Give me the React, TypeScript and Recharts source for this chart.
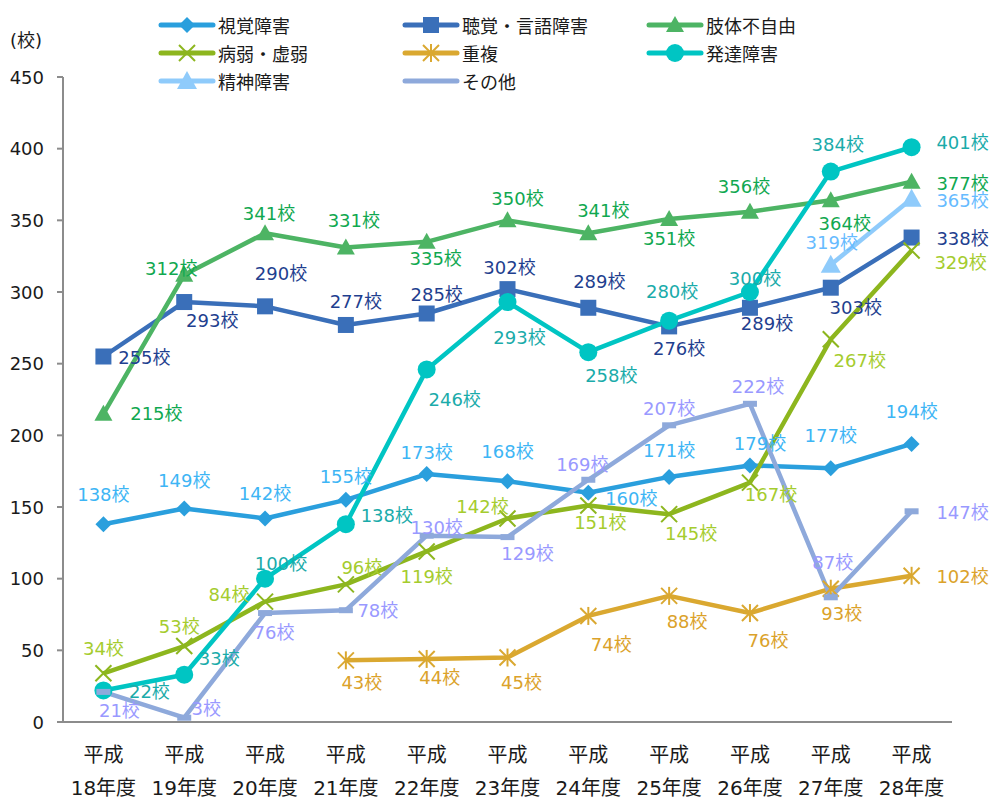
import React from 'react';
import { LineChart, Line, XAxis, YAxis, LabelList, ReferenceLine } from 'recharts';

const years = ['18年度', '19年度', '20年度', '21年度', '22年度', '23年度', '24年度', '25年度', '26年度', '27年度', '28年度'];
const yTicks = [0, 50, 100, 150, 200, 250, 300, 350, 400, 450];

const shikaku = [138, 149, 142, 155, 173, 168, 160, 171, 179, 177, 194];
const choukaku = [255, 293, 290, 277, 285, 302, 289, 276, 289, 303, 338];
const shitai = [215, 312, 341, 331, 335, 350, 341, 351, 356, 364, 377];
const byoujaku = [34, 53, 84, 96, 119, 142, 151, 145, 167, 267, 329];
const choufuku = [null, null, null, 43, 44, 45, 74, 88, 76, 93, 102];
const hattatsu = [22, 33, 100, 138, 246, 293, 258, 280, 300, 384, 401];
const seishin = [null, null, null, null, null, null, null, null, null, 319, 365];
const sonota = [21, 3, 76, 78, 130, 129, 169, 207, 222, 87, 147];

const FONT = '"DejaVu Sans", "Noto Sans CJK JP", sans-serif';
const AXIS = '#8c8c8c';

// label offsets (dx, dy) from each point, by series
const series = [
  {
    key: 'shikaku', name: '視覚障害', values: shikaku, color: '#2A9FDD', labelColor: '#3DB5F5', marker: 'diamond',
    offsets: [[0, -30], [0, -28], [0, -25], [0, -23], [0, -22], [0, -30], [43, 6], [0, -26], [10, -22], [0, -33], [0, -32]],
  },
  {
    key: 'choukaku', name: '聴覚・言語障害', values: choukaku, color: '#3A6FB9', labelColor: '#1F3F8F', marker: 'square',
    offsets: [[41, 1], [28, 18], [16, -33], [10, -23], [10, -19], [2, -22], [11, -26], [10, 22], [17, 16], [25, 20], [51, 1]],
  },
  {
    key: 'shitai', name: '肢体不自由', values: shitai, color: '#4DB464', labelColor: '#10A850', marker: 'triangle',
    offsets: [[53, 0], [-13, -6], [4, -20], [8, -27], [9, 17], [10, -22], [15, -23], [0, 20], [-6, -25], [14, 23], [51, 2]],
  },
  {
    key: 'byoujaku', name: '病弱・虚弱', values: byoujaku, color: '#8DB61E', labelColor: '#A5CC2E', marker: 'x',
    offsets: [[0, -25], [-5, -20], [-36, -7], [16, -17], [0, 25], [-25, -12], [12, 17], [22, 19], [21, 12], [29, 21], [49, 12]],
  },
  {
    key: 'choufuku', name: '重複', values: choufuku, color: '#DAA830', labelColor: '#DBA22A', marker: 'star',
    offsets: [[0, 0], [0, 0], [0, 0], [16, 22], [13, 19], [14, 25], [23, 29], [18, 26], [18, 27], [11, 25], [51, 1]],
  },
  {
    key: 'hattatsu', name: '発達障害', values: hattatsu, color: '#00C5C3', labelColor: '#1AABAA', marker: 'circle',
    offsets: [[46, 1], [35, -16], [16, -15], [41, -9], [28, 30], [12, 35], [23, 23], [3, -29], [5, -14], [7, -27], [51, -5]],
  },
  {
    key: 'seishin', name: '精神障害', values: seishin, color: '#8FCBFB', labelColor: '#66BBFF', marker: 'bigTriangle',
    offsets: [[0, 0], [0, 0], [0, 0], [0, 0], [0, 0], [0, 0], [0, 0], [0, 0], [0, 0], [1, -22], [51, 2]],
  },
  {
    key: 'sonota', name: 'その他', values: sonota, color: '#8EA9DB', labelColor: '#9999FF', marker: 'dash',
    offsets: [[16, 19], [22, -9], [9, 19], [32, 0], [10, -8], [20, 16], [-6, -15], [0, -17], [8, -17], [2, -35], [51, 1]],
  },
];

const data = years.map((y, i) => {
  const row: Record<string, number | null> = { x: i };
  series.forEach((s) => { row[s.key] = s.values[i]; });
  return row;
});

function Marker({ kind, cx, cy, color }: { kind: string; cx: number; cy: number; color: string }) {
  switch (kind) {
    case 'diamond':
      return <polygon points={`${cx},${cy - 8} ${cx + 8},${cy} ${cx},${cy + 8} ${cx - 8},${cy}`} fill={color} />;
    case 'square':
      return <rect x={cx - 8} y={cy - 8} width={16} height={16} fill={color} />;
    case 'triangle':
      return <polygon points={`${cx},${cy - 9} ${cx + 9},${cy + 7} ${cx - 9},${cy + 7}`} fill={color} />;
    case 'bigTriangle':
      return <polygon points={`${cx},${cy - 10} ${cx + 10},${cy + 8} ${cx - 10},${cy + 8}`} fill={color} />;
    case 'circle':
      return <circle cx={cx} cy={cy} r={9} fill={color} />;
    case 'x':
      return (
        <g stroke={color} strokeWidth={2}>
          <line x1={cx - 8} y1={cy - 8} x2={cx + 8} y2={cy + 8} />
          <line x1={cx - 8} y1={cy + 8} x2={cx + 8} y2={cy - 8} />
        </g>
      );
    case 'star':
      return (
        <g stroke={color} strokeWidth={2}>
          <line x1={cx - 8} y1={cy - 8} x2={cx + 8} y2={cy + 8} />
          <line x1={cx - 8} y1={cy + 8} x2={cx + 8} y2={cy - 8} />
          <line x1={cx} y1={cy - 9} x2={cx} y2={cy + 9} />
        </g>
      );
    case 'dash':
      return <rect x={cx - 7} y={cy - 3} width={14} height={6} fill={color} />;
    default:
      return <g />;
  }
}

const makeDot = (kind: string, color: string) => (props: any) => {
  const { cx, cy, index, value } = props;
  if (value == null || cx == null || cy == null) return <g key={`d-${index}`} />;
  return <g key={`d-${index}`}><Marker kind={kind} cx={cx} cy={cy} color={color} /></g>;
};

const makeLabel = (s: typeof series[number]) => (props: any) => {
  const { x, y, value, index } = props;
  if (value == null || x == null || y == null) return null;
  const [dx, dy] = s.offsets[index] || [0, -20];
  return (
    <text x={x + dx} y={y + dy} fill={s.labelColor} fontSize={18} fontFamily={FONT}
      textAnchor="middle" dominantBaseline="central">
      {value}校
    </text>
  );
};

const XTick = (props: any) => {
  const { x, y, payload } = props;
  return (
    <g fontFamily={FONT} fontSize={20} fill="#1a1a1a">
      <text x={x} y={y + 33} textAnchor="middle" dominantBaseline="central">平成</text>
      <text x={x} y={y + 66} textAnchor="middle" dominantBaseline="central">{years[payload.value]}</text>
    </g>
  );
};

// tick marks on the category boundaries
const EdgeTick = (props: any) => {
  const { x, y } = props;
  return <line x1={x} y1={y} x2={x} y2={y + 7} stroke={AXIS} strokeWidth={2} />;
};

const YTick = (props: any) => {
  const { x, y, payload } = props;
  return (
    <g>
      <line x1={x - 6} y1={y} x2={x} y2={y} stroke={AXIS} strokeWidth={2} />
      <text x={x - 19} y={y} textAnchor="end" dominantBaseline="central" fontSize={18} fontFamily={FONT} fill="#1a1a1a">
        {payload.value}
      </text>
    </g>
  );
};

function LegendBox() {
  return (
    <div style={{ position: 'absolute', left: 0, top: 0, width: 992, height: 95, fontFamily: FONT, fontSize: 18, color: '#1a1a1a' }}>
      {series.map((s, i) => {
        const col = i % 3;
        const row = Math.floor(i / 3);
        return (
          <div key={s.key} style={{ position: 'absolute', left: 158 + col * 244, top: 11 + row * 28, height: 28, display: 'flex', alignItems: 'center' }}>
            <svg width={58} height={24}>
              <line x1={3} y1={12} x2={55} y2={12} stroke={s.color} strokeWidth={5} strokeLinecap="round" />
              {s.marker !== 'dash' && <Marker kind={s.marker} cx={29} cy={12} color={s.color} />}
            </svg>
            <span style={{ marginLeft: 2, whiteSpace: 'nowrap' }}>{s.name}</span>
          </div>
        );
      })}
    </div>
  );
}

export default function App() {
  const edgeTicks = [...years.map((_, i) => i - 0.5), years.length - 0.5];
  return (
    <div style={{ position: 'absolute', left: 0, top: 0, width: 992, height: 800, background: '#fff' }}>
      <LineChart width={992} height={800} data={data} margin={{ top: 77, right: 40, bottom: 0, left: 0 }}>
        <XAxis
          xAxisId="edge"
          dataKey="x"
          type="number"
          domain={[-0.5, years.length - 0.5]}
          ticks={edgeTicks}
          height={0}
          tickSize={0}
          tickMargin={0}
          axisLine={false}
          tickLine={false}
          tick={<EdgeTick />}
          interval={0}
        />
        <XAxis
          dataKey="x"
          type="number"
          domain={[-0.5, years.length - 0.5]}
          ticks={years.map((_, i) => i)}
          height={78}
          tickSize={0}
          tickMargin={0}
          axisLine={false}
          tickLine={false}
          tick={<XTick />}
          interval={0}
        />
        <YAxis
          domain={[0, 450]}
          ticks={yTicks}
          width={63}
          tickSize={0}
          tickMargin={0}
          interval={0}
          axisLine={false}
          tickLine={false}
          tick={<YTick />}
        />
        <ReferenceLine x={-0.5} stroke={AXIS} strokeWidth={2} ifOverflow="visible" />
        <ReferenceLine y={0} stroke={AXIS} strokeWidth={2} ifOverflow="visible" />
        {series.map((s) => (
          <Line
            key={s.key}
            dataKey={s.key}
            name={s.name}
            stroke={s.color}
            strokeWidth={4.5}
            strokeLinejoin="round"
            dot={makeDot(s.marker, s.color)}
            activeDot={false}
            isAnimationActive={false}
          />
        ))}
        {series.map((s) => (
          <Line
            key={`${s.key}-lbl`}
            dataKey={s.key}
            stroke="none"
            dot={false}
            activeDot={false}
            legendType="none"
            isAnimationActive={false}
          >
            <LabelList dataKey={s.key} content={makeLabel(s)} />
          </Line>
        ))}
      </LineChart>
      <LegendBox />
      <div style={{ position: 'absolute', left: 10, top: 26, fontFamily: FONT, fontSize: 18, color: '#1a1a1a' }}>(校)</div>
    </div>
  );
}
